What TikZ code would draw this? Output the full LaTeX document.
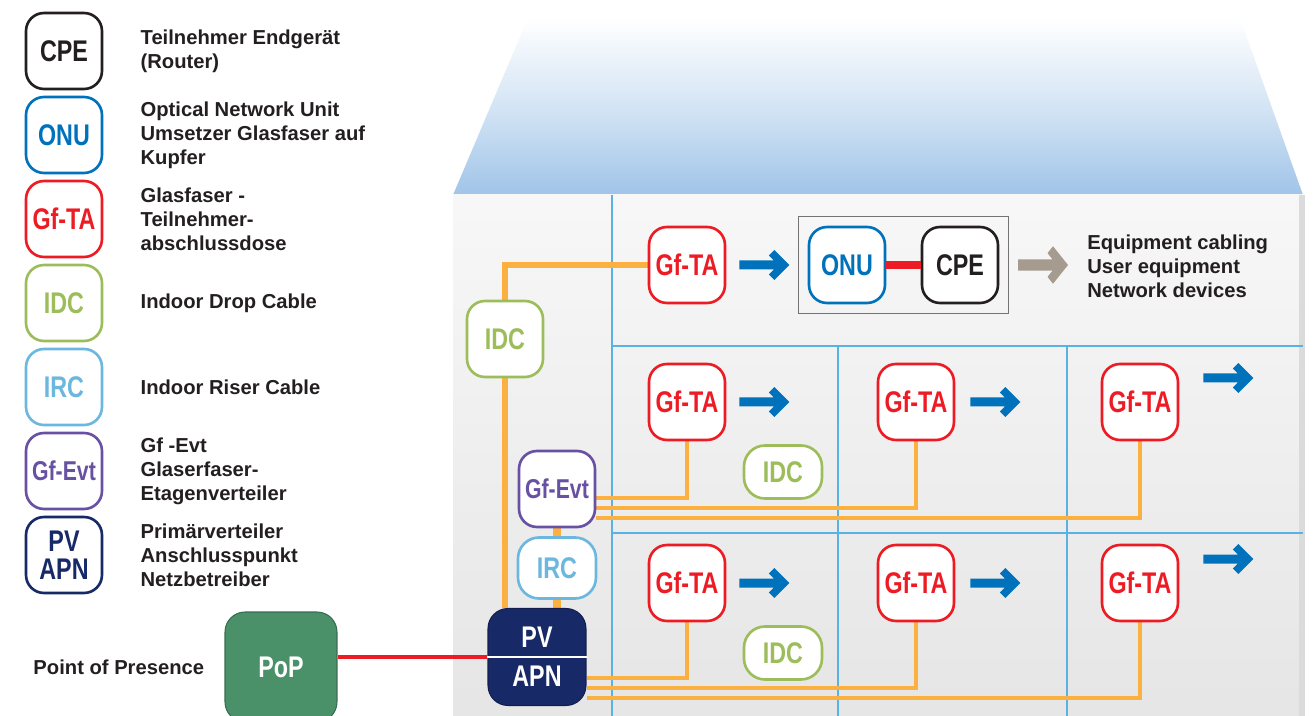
\documentclass[tikz,border=0pt]{standalone}
\usepackage{fontspec}
\setmainfont{Liberation Sans}
\newfontfamily\condfont[FakeStretch=0.78]{Liberation Sans}
\usepackage{tikz}
\usetikzlibrary{arrows.meta,calc,positioning,fit}
\definecolor{cpeblack}{RGB}{35,31,32}
\definecolor{onublue}{RGB}{0,114,188}
\definecolor{tared}{RGB}{237,28,36}
\definecolor{idcgreen}{RGB}{157,189,90}
\definecolor{irccyan}{RGB}{107,183,222}
\definecolor{evtpurple}{RGB}{104,80,162}
\definecolor{pvnavy}{RGB}{24,41,104}
\definecolor{popgreen}{RGB}{74,145,106}
\definecolor{cableorange}{RGB}{251,176,64}
\definecolor{gridblue}{RGB}{88,178,228}
\definecolor{roofblue}{RGB}{160,196,232}
\definecolor{arrowtaupe}{RGB}{166,155,143}
\pgfdeclarelayer{deep}
\pgfdeclarelayer{back}
\pgfsetlayers{deep,back,main}
\tikzset{
  box/.style={draw=#1, text=#1, fill=white, line width=1.5pt, rounded corners=0.36cm,
    minimum width=1.52cm, minimum height=1.52cm, inner sep=0pt, align=center,
    font=\condfont\bfseries\fontsize{17}{16}\selectfont},
  flat/.style={box=#1, minimum width=1.56cm, minimum height=1.06cm, rounded corners=0.42cm},
  solidbox/.style={fill=#1, draw=#1!75!black, text=white, line width=0.6pt, rounded corners=0.4cm,
    inner sep=0pt, align=center, font=\condfont\bfseries\fontsize{17}{22}\selectfont},
  desc/.style={text=cpeblack, align=left, inner xsep=0pt, font=\bfseries\fontsize{11.5}{13.7}\selectfont},
  cable/.style={cableorange, line width=#1},
  cable/.default=2pt,
  wall/.style={gridblue, line width=0.8pt},
  arrowpic/.pic={\fill[#1] (0,-4.5) -- (34.5,-4.5) -- (29.5,-9.5) -- (35,-15) -- (50,0)
    -- (35,15) -- (29.5,9.5) -- (34.5,4.5) -- (0,4.5) -- cycle;}
}
\begin{document}
\begin{tikzpicture}[x=0.02cm,y=-0.02cm]
  \clip (0,0) rectangle (1313,716);
  % house
  \begin{pgfonlayer}{deep}
    \shade[top color=white, bottom color=roofblue, middle color=roofblue!45] (453,195) -- (528,18) -- (1240,18) -- (1303,195) -- cycle;
    \shade[top color=black!3, bottom color=black!10] (453,195) rectangle (1303,716);
    \fill[black!14] (1299,195) rectangle (1305,716);
    \draw[wall] (612,195) -- (612,716) (838,346) -- (838,716) (1067,346) -- (1067,716);
    \draw[wall] (612,346) -- (1303,346) (612,533) -- (1303,533);
  \end{pgfonlayer}
  % legend
  \foreach \i/\name/\col/\lab/\txt in {
      0/cpe/cpeblack/CPE/{Teilnehmer Endgerät\\(Router)},
      1/onu/onublue/ONU/{Optical Network Unit\\Umsetzer Glasfaser auf\\Kupfer},
      2/ta/tared/Gf-TA/{Glasfaser -\\Teilnehmer-\\abschlussdose},
      3/idc/idcgreen/IDC/{Indoor Drop Cable},
      4/irc/irccyan/IRC/{Indoor Riser Cable},
      5/evt/evtpurple/{\fontsize{15.5}{15}\selectfont Gf-Evt}/{Gf -Evt\\Glaserfaser-\\Etagenverteiler},
      6/pv/pvnavy/{PV\\APN}/{Primärverteiler\\Anschlusspunkt\\Netzbetreiber}} {
    \node[box=\col] (l\name) at (64,{51+84*\i}) {\lab};
    \node[desc, right=0.74cm of l\name] (t\name) {\txt};
  }
  % pop and riser
  \node[solidbox=popgreen, minimum width=2.24cm, minimum height=2.2cm] (pop) at (281,667) {PoP};
  \node[desc, left=0.4cm of pop] (poptxt) {Point of Presence};
  \node[solidbox=pvnavy, minimum width=1.96cm, minimum height=1.94cm] (pv) at (537,657) {PV\\APN};
  \draw[white, line width=0.8pt] (pv.west) -- (pv.east);
  \node[box=idcgreen] (idc) at (505,339) {IDC};
  \node[box=evtpurple, font=\condfont\bfseries\fontsize{15.5}{15}\selectfont] (evt) at (557,489) {Gf-Evt};
  \node[flat=irccyan, minimum height=1.22cm] (irc) at (557,568) {IRC};
  % top floor
  \node[box=tared] (ta0) at (687,265) {Gf-TA};
  \node[box=onublue] (onu) at (847,265) {ONU};
  \node[box=cpeblack] (cpe) at (960,265) {CPE};
  \node[draw=black!55, line width=0.8pt, fit=(onu)(cpe), inner sep=0.18cm] (equip) {};
  \node[desc, anchor=west] (eqtxt) at (1087,266) {Equipment cabling\\User equipment\\Network devices};
  \draw[tared, line width=4.2pt] (onu) -- (cpe);
  \pic at ($(ta0.east)+(13,0)$) {arrowpic=onublue};
  \pic[yscale=1.25] at ($(equip.east)+(9,0)$) {arrowpic=arrowtaupe};
  % floors
  \foreach \f/\y in {1/402,2/583} {
    \foreach \c/\x in {a/687,b/916,c/1140}
      \node[box=tared] (ta\f\c) at (\x,\y) {Gf-TA};
    \node[flat=idcgreen] (idc\f) at (783,\y+70) {IDC};
    \pic at ($(ta\f a.east)+(13,0)$) {arrowpic=onublue};
    \pic at ($(ta\f b.east)+(15,0)$) {arrowpic=onublue};
    \pic at ($(ta\f c.east)+(24,-24)$) {arrowpic=onublue};
  }
  % cables
  \begin{pgfonlayer}{back}
    \draw[tared, line width=2.8pt] (pv.west) -- (pv.west -| pop.east);
    \draw[cable=3.4pt] (idc.north) |- (ta0.west);
    \draw[cable=3.4pt] (idc.south) -- (idc.south |- pv.north);
    \draw[cable=5pt] (evt.south) -- (irc.north);
    \draw[cable=5pt] (irc.south) -- (irc.south |- pv.north);
    \foreach \c/\d in {a/9,b/19,c/29}
      \draw[cable] ($(evt.east)+(0,\d)$) -| (ta1\c.south);
    \foreach \c/\d in {a/21,b/31,c/41}
      \draw[cable] ($(pv.east)+(0,\d)$) -| (ta2\c.south);
  \end{pgfonlayer}
\end{tikzpicture}
\end{document}
